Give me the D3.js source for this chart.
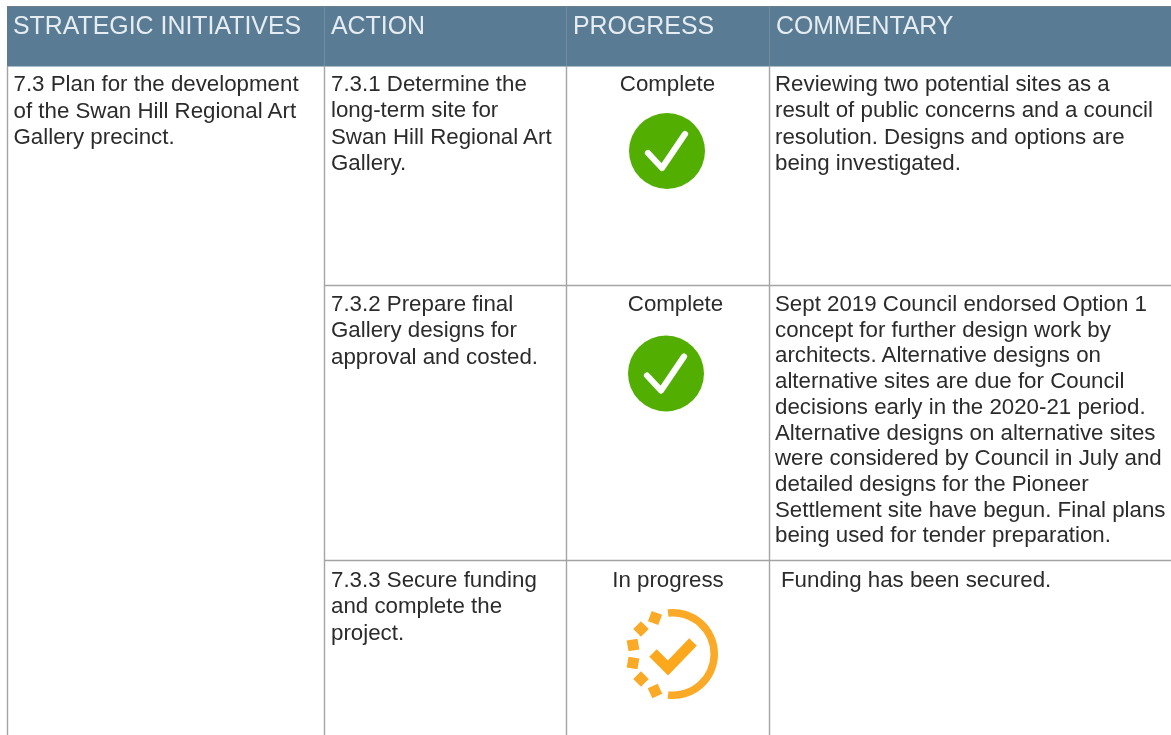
<!DOCTYPE html>
<html><head><meta charset="utf-8">
<script src="https://cdnjs.cloudflare.com/ajax/libs/d3/7.8.5/d3.min.js"></script>
<style>html,body{margin:0;padding:0;background:#fff;overflow:hidden}svg{display:block;filter:blur(0.45px)}text{font-family:"Liberation Sans",Arial,sans-serif}</style>
</head><body><svg id="c" width="1171" height="735"></svg>
<script>
const headers = ["STRATEGIC INITIATIVES","ACTION","PROGRESS","COMMENTARY"];
const initiative = ["7.3 Plan for the development","of the Swan Hill Regional Art","Gallery precinct."];
const actions = [
 ["7.3.1 Determine the","long-term site for","Swan Hill Regional Art","Gallery."],
 ["7.3.2 Prepare final","Gallery designs for","approval and costed."],
 ["7.3.3 Secure funding","and complete the","project."]
];
const progress = ["Complete","Complete","In progress"];
const commentary = [
 ["Reviewing two potential sites as a","result of public concerns and a council","resolution. Designs and options are","being investigated."],
 ["Sept 2019 Council endorsed Option 1","concept for further design work by","architects. Alternative designs on","alternative sites are due for Council","decisions early in the 2020-21 period.","Alternative designs on alternative sites","were considered by Council in July and","detailed designs for the Pioneer","Settlement site have begun. Final plans","being used for tender preparation."],
 ["Funding has been secured."]
];

const svg = d3.select("#c");
const colEdges = [7.5,324.5,566.5,769.5];
const headTextX = [13,331,573,776];
const rowTops = [66,285.5,560.5];
const rowTextY = [91,311,587];
const rowLabelX = [667.5,675.5,668];
const iconCY = [151,373.5,654];
const iconCX = [667,666,673];
const commentX = [775,775,781];
const FS = 22.3, TXT = "#2b2b2b", LINE = "#a4a4a4", HEAD = "#5a7b94";

svg.append("rect").attr("x",7).attr("y",6.5).attr("width",1164).attr("height",60).attr("fill",HEAD);
svg.append("line").attr("x1",7).attr("x2",1171).attr("y1",6.5).attr("y2",6.5).attr("stroke","#6e7f8c").attr("stroke-width",1);
svg.selectAll(".hd").data(headers).join("text").attr("class","hd")
  .attr("x",(d,i)=>headTextX[i]).attr("y",34).attr("font-size",24.9).attr("fill","#e6edf2").text(d=>d);
svg.selectAll(".hs").data(colEdges.slice(1)).join("line").attr("class","hs")
  .attr("x1",d=>d).attr("x2",d=>d).attr("y1",7).attr("y2",66).attr("stroke","#6f8ca2");
svg.selectAll(".vl").data(colEdges).join("line").attr("class","vl")
  .attr("x1",d=>d).attr("x2",d=>d).attr("y1",66).attr("y2",735).attr("stroke",LINE).attr("stroke-width",1.4);
svg.selectAll(".hl").data(rowTops.slice(1)).join("line").attr("class","hl")
  .attr("x1",324).attr("x2",1171).attr("y1",d=>d).attr("y2",d=>d).attr("stroke",LINE).attr("stroke-width",1.4);

function block(lines,x,top,lh){
  svg.append("g").selectAll("text").data(lines).join("text")
    .attr("x",x).attr("y",(d,i)=>top+i*lh).attr("font-size",FS).attr("fill",TXT).text(d=>d);
}
block(initiative,13.5,91,26.5);
actions.forEach((a,i)=>block(a,331,rowTextY[i],26.4));
commentary.forEach((a,i)=>block(a,commentX[i],rowTextY[i],i===1?25.7:26.3));
svg.selectAll(".pr").data(progress).join("text").attr("class","pr")
  .attr("x",(d,i)=>rowLabelX[i]).attr("y",(d,i)=>rowTextY[i]).attr("text-anchor","middle")
  .attr("font-size",FS).attr("fill",TXT).text(d=>d);

progress.forEach((p,i)=>{
  const g = svg.append("g").attr("transform",`translate(${iconCX[i]},${iconCY[i]})`);
  if(p==="Complete"){
    g.append("circle").attr("r",38).attr("fill","#52ae00");
    g.append("path").attr("d",d3.line()([[-19,2],[-5,17],[18,-17]])).attr("fill","none")
     .attr("stroke","#fff").attr("stroke-width",6.2).attr("stroke-linecap","round").attr("stroke-linejoin","round");
  } else {
    const c="#fbaa28";
    g.append("path").attr("d",d3.arc().innerRadius(37.5).outerRadius(45).startAngle(-0.12).endAngle(Math.PI+0.12)()).attr("fill",c);
    const dots=[[-18,-36],[-32,-25],[-40,-9],[-40,9],[-32,25],[-18,37]];
    const rot=[20,45,80,100,135,155];
    g.selectAll("rect").data(dots).join("rect").attr("x",-5.5).attr("y",-5.5).attr("width",11).attr("height",11).attr("fill",c)
     .attr("transform",(d,j)=>`translate(${d[0]},${d[1]}) rotate(${rot[j]})`);
    g.append("path").attr("d",d3.line()([[-20,-1],[-5,14],[20,-12]])).attr("fill","none")
     .attr("stroke","#fba81c").attr("stroke-width",10.5);
  }
});
</script></body></html>
